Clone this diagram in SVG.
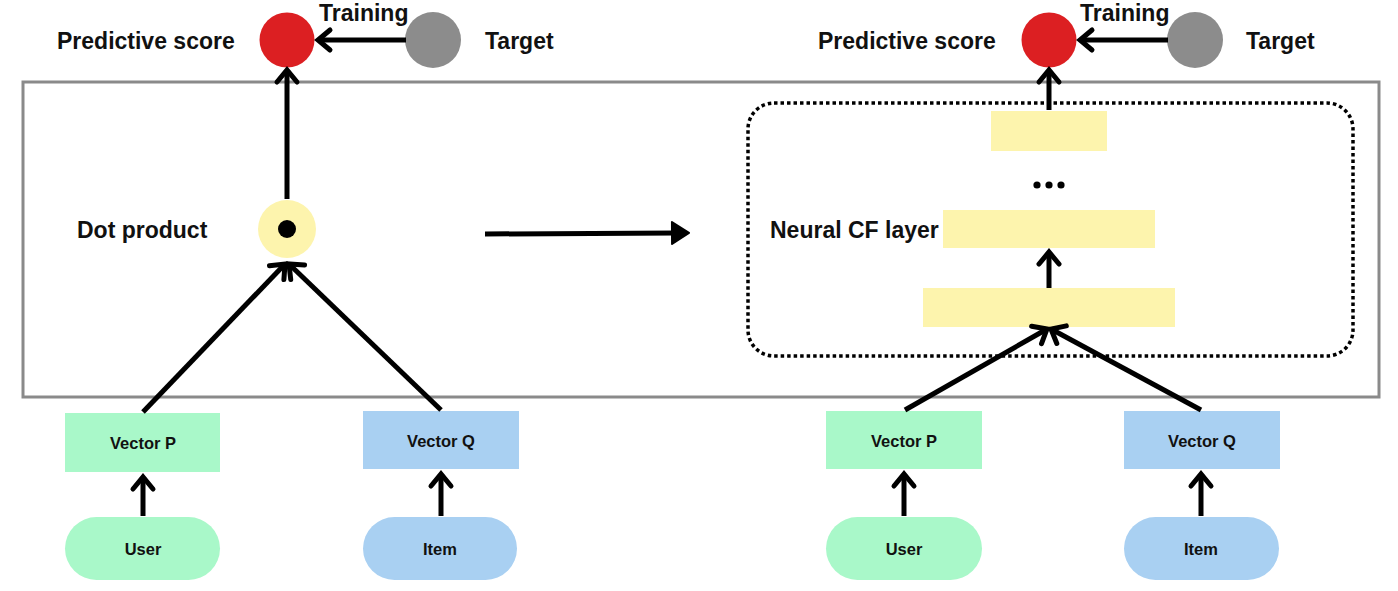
<svg xmlns="http://www.w3.org/2000/svg" width="1398" height="591" viewBox="0 0 1398 591">
<style>
text{font-family:"Liberation Sans",Arial,sans-serif;font-weight:bold;fill:#111;}
.lbl{font-size:23px;}
.sm{font-size:16.5px;text-anchor:middle;}
.edge{stroke:#000;stroke-width:5;fill:none;}
.green{fill:#a9f8c9;}
.blue{fill:#a9d0f2;}
.yellow{fill:#fdf4ad;}
.red{fill:#dc1f22;}
.gray{fill:#8c8c8c;}
</style>
<defs>
<marker id="chev" markerUnits="userSpaceOnUse" markerWidth="30" markerHeight="30" viewBox="-20 -15 30 30" refX="0" refY="0" orient="auto">
<polyline points="-12,-10 0,0 -12,10" fill="none" stroke="#000" stroke-width="5" stroke-linecap="round" stroke-linejoin="miter"/>
</marker>
<marker id="tri" markerUnits="userSpaceOnUse" markerWidth="40" markerHeight="30" viewBox="-20 -15 40 30" refX="0" refY="0" orient="auto">
<path d="M-4,-11 L13,0 L-4,11 Z" fill="#000" stroke="#000" stroke-width="2" stroke-linejoin="round"/>
</marker>
</defs>
<rect x="0" y="0" width="1398" height="591" fill="#fff"/>

<g id="frame">
<rect x="23" y="82" width="1356" height="315" fill="none" stroke="#8a8a8a" stroke-width="3"/>
</g>
<g id="ncf-box">
<rect x="748" y="103" width="605" height="253" rx="26" ry="26" fill="none" stroke="#000" stroke-width="3.5" stroke-dasharray="3.5 3"/>
</g>

<!-- Left panel nodes -->
<g id="L-score"><circle cx="287" cy="40" r="27.5" class="red"/><text class="lbl" x="57" y="49">Predictive score</text></g>
<g id="L-target"><circle cx="433" cy="40" r="28" class="gray"/><text class="lbl" x="485" y="49">Target</text></g>
<g id="L-training-label"><text class="lbl" x="319" y="21">Training</text></g>
<g id="L-dot"><circle cx="287" cy="229" r="29" class="yellow"/><circle cx="287" cy="229" r="9" fill="#000"/><text class="lbl" x="77" y="238">Dot product</text></g>
<g id="L-vecP"><rect x="65" y="413" width="155" height="59" class="green"/><text class="sm" x="143" y="449">Vector P</text></g>
<g id="L-vecQ"><rect x="363" y="411" width="156" height="58" class="blue"/><text class="sm" x="441" y="447">Vector Q</text></g>
<g id="L-user"><rect x="65" y="517" width="155" height="63" rx="31.5" class="green"/><text class="sm" x="143" y="555">User</text></g>
<g id="L-item"><rect x="363" y="517" width="154" height="63" rx="31.5" class="blue"/><text class="sm" x="440" y="555">Item</text></g>

<!-- Right panel nodes -->
<g id="R-score"><circle cx="1049" cy="40" r="27.5" class="red"/><text class="lbl" x="818" y="49">Predictive score</text></g>
<g id="R-target"><circle cx="1195" cy="40" r="28" class="gray"/><text class="lbl" x="1246" y="49">Target</text></g>
<g id="R-training-label"><text class="lbl" x="1080" y="21">Training</text></g>
<g id="R-layer-top"><rect x="991" y="111" width="116" height="40" class="yellow"/></g>
<g id="R-ellipsis"><circle cx="1037" cy="185" r="3.6" fill="#000"/><circle cx="1049" cy="185" r="3.6" fill="#000"/><circle cx="1061" cy="185" r="3.6" fill="#000"/></g>
<g id="R-layer-mid"><rect x="943" y="210" width="212" height="38" class="yellow"/><text class="lbl" x="770" y="238">Neural CF layer</text></g>
<g id="R-layer-bot"><rect x="923" y="288" width="252" height="39" class="yellow"/></g>
<g id="R-vecP"><rect x="826" y="411" width="156" height="58" class="green"/><text class="sm" x="904" y="447">Vector P</text></g>
<g id="R-vecQ"><rect x="1124" y="411" width="156" height="58" class="blue"/><text class="sm" x="1202" y="447">Vector Q</text></g>
<g id="R-user"><rect x="826" y="517" width="156" height="63" rx="31.5" class="green"/><text class="sm" x="904" y="555">User</text></g>
<g id="R-item"><rect x="1124" y="517" width="155" height="63" rx="31.5" class="blue"/><text class="sm" x="1201" y="555">Item</text></g>

<g id="connectors">
<line class="edge" x1="406" y1="40" x2="318" y2="40" marker-end="url(#chev)"/>
<line class="edge" x1="287" y1="199" x2="287" y2="70" marker-end="url(#chev)"/>
<line class="edge" x1="143" y1="412" x2="285" y2="264" marker-end="url(#chev)"/>
<line class="edge" x1="441" y1="410" x2="289" y2="264" marker-end="url(#chev)"/>
<line class="edge" x1="143" y1="516" x2="143" y2="477" marker-end="url(#chev)"/>
<line class="edge" x1="441" y1="516" x2="441" y2="474" marker-end="url(#chev)"/>
<line class="edge" x1="485" y1="234" x2="676" y2="233" marker-end="url(#tri)"/>
<line class="edge" x1="1168" y1="40" x2="1080" y2="40" marker-end="url(#chev)"/>
<line class="edge" x1="1049" y1="110" x2="1049" y2="70" marker-end="url(#chev)"/>
<line class="edge" x1="1049" y1="288" x2="1049" y2="252" marker-end="url(#chev)"/>
<line class="edge" x1="905" y1="410" x2="1047" y2="329" marker-end="url(#chev)"/>
<line class="edge" x1="1201" y1="410" x2="1051" y2="329" marker-end="url(#chev)"/>
<line class="edge" x1="904" y1="516" x2="904" y2="474" marker-end="url(#chev)"/>
<line class="edge" x1="1201" y1="516" x2="1201" y2="474" marker-end="url(#chev)"/>
</g>
</svg>
